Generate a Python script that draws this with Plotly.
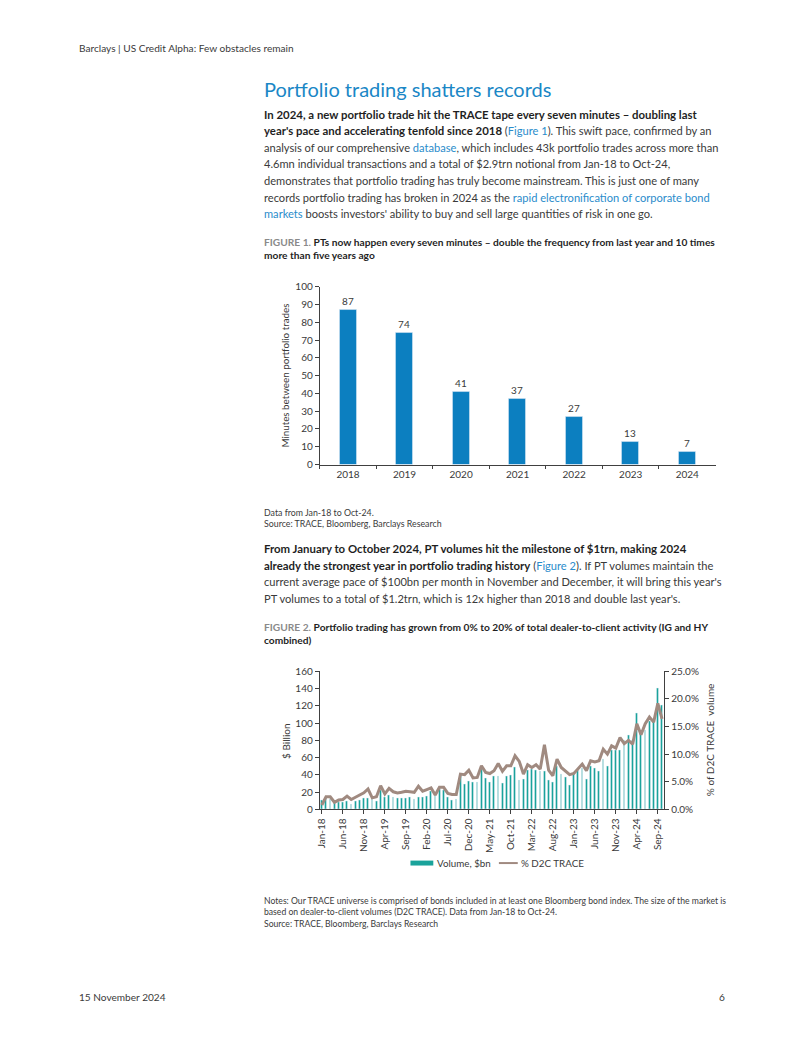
import plotly.graph_objects as go

# page is 802x1037; the html body keeps an 8px margin, so the figure is 786x1021 offset by 8px
OFF = 8
W, H = 802 - 2 * OFF, 1037 - 2 * OFF
def X(px): return (px - OFF) / W
def Y(py): return 1 - (py - OFF) / H

FONT = "Lato"
TXT = "#3a3a3a"
BOLD = "#1f1f1f"
BLUE = "#1a87c6"
LINK = "#2a8ccb"
BAR1 = "#0c7fc0"
TEAL = "#1aa39b"
LINEC = "#a08a80"
AX = "#404040"

# ---------- Figure 1 data ----------
years = ["2018", "2019", "2020", "2021", "2022", "2023", "2024"]
minutes = [87, 74, 41, 37, 27, 13, 7]

# ---------- Figure 2 data ----------
mon_names = ["Jan", "Feb", "Mar", "Apr", "May", "Jun", "Jul", "Aug", "Sep", "Oct", "Nov", "Dec"]
months = [f"{m}-{y}" for y in ["18", "19", "20", "21", "22", "23", "24"] for m in mon_names][:82]
volume_bn = [11, 13, 12, 7, 8, 8, 10, 6, 9, 11, 13, 13,
             12, 10, 22, 14, 17, 14, 13, 13, 13, 14, 12, 14,
             14, 15, 21, 16, 23, 22, 14, 11, 12, 41, 29, 33,
             32, 32, 46, 36, 32, 39, 39, 30, 39, 40, 49, 34,
             35, 45, 47, 45, 44, 44, 34, 32, 50, 41, 37, 28,
             42, 45, 48, 35, 50, 48, 44, 58, 50, 68, 69, 69,
             80, 86, 80, 111, 88, 92, 102, 104, 140, 121]
pct_d2c = [0.8, 2.3, 2.3, 1.3, 1.7, 1.8, 2.4, 1.8, 2.2, 2.6, 3.0, 3.7,
           2.1, 2.3, 4.3, 2.8, 3.8, 3.2, 3.0, 3.1, 3.3, 3.2, 3.1, 4.2,
           3.3, 3.6, 3.9, 2.6, 4.0, 4.0, 2.9, 2.7, 2.7, 6.4, 6.3, 7.1,
           5.7, 5.8, 7.9, 6.7, 6.5, 7.0, 8.3, 6.9, 7.9, 7.9, 9.7, 8.7,
           6.4, 8.1, 7.6, 8.1, 7.3, 11.7, 7.1, 6.1, 9.1, 7.6, 7.0, 6.3,
           6.5, 7.3, 8.2, 7.0, 8.8, 8.6, 8.8, 10.9, 10.0, 11.5, 11.1, 13.0,
           11.9, 12.5, 11.8, 15.5, 13.5, 15.5, 16.7, 15.8, 19.2, 16.4]
tick_months = ["Jan-18", "Jun-18", "Nov-18", "Apr-19", "Sep-19", "Feb-20", "Jul-20", "Dec-20", "May-21",
               "Oct-21", "Mar-22", "Aug-22", "Jan-23", "Jun-23", "Nov-23", "Apr-24", "Sep-24"]

fig = go.Figure()

fig.add_trace(go.Bar(x=years, y=minutes, marker_color=BAR1, width=0.3,
                     text=minutes, textposition="outside", cliponaxis=False,
                     textfont=dict(family=FONT, size=10, color=TXT),
                     xaxis="x", yaxis="y", showlegend=False))
fig.add_trace(go.Bar(x=months, y=volume_bn, marker_color=TEAL, width=0.42,
                     xaxis="x2", yaxis="y2", showlegend=False, name="Volume, $bn"))
fig.add_trace(go.Scatter(x=months, y=[v / 100 for v in pct_d2c], mode="lines",
                         line=dict(color=LINEC, width=3), xaxis="x2", yaxis="y3",
                         showlegend=False, name="% D2C TRACE"))

tickfont = dict(family=FONT, size=10, color=TXT)
fig.update_layout(
    width=W, height=H, autosize=False,
    margin=dict(l=0, r=0, t=0, b=0),
    paper_bgcolor="white", plot_bgcolor="white",
    bargap=0.0,
    xaxis=dict(domain=[X(316.7), X(715)], anchor="y", type="category",
               showline=True, linecolor=AX, linewidth=1, ticks="outside", tickson="boundaries",
               ticklen=3, tickcolor=AX, tickfont=tickfont, showgrid=False, fixedrange=True),
    yaxis=dict(domain=[Y(463.3), Y(283.3)], anchor="x", range=[0, 100], dtick=10,
               showline=True, linecolor=AX, linewidth=1, ticks="outside", ticklen=4,
               tickcolor=AX, tickfont=tickfont, showgrid=False, zeroline=False),
    xaxis2=dict(domain=[X(316.7), X(663.3)], anchor="y2", type="category",
                range=[-0.5, 81.5], tickvals=tick_months, ticktext=tick_months,
                tickangle=-90, showline=True, linecolor=AX, linewidth=1,
                ticks="outside", ticklen=4, tickcolor=AX, tickfont=tickfont, showgrid=False),
    yaxis2=dict(domain=[Y(812.7), Y(672.7)], anchor="x2", range=[0, 160], dtick=20,
                showline=True, linecolor=AX, linewidth=1, ticks="outside", ticklen=4,
                tickcolor=AX, tickfont=tickfont, showgrid=False, zeroline=False),
    yaxis3=dict(domain=[Y(812.7), Y(672.7)], anchor="x2", overlaying="y2", side="right",
                range=[0, 0.25], dtick=0.05, tickformat=".1%",
                showline=True, linecolor=AX, linewidth=1, ticks="outside", ticklen=4,
                tickcolor=AX, tickfont=tickfont, showgrid=False, zeroline=False),
)

ann = []
def text(x, y, s, size=11.1, color=TXT, xanchor="left", angle=0, family=FONT):
    ann.append(dict(x=X(x), y=Y(y), xref="paper", yref="paper", text=s, showarrow=False,
                    xanchor=xanchor, yanchor="middle", textangle=angle,
                    font=dict(family=family, size=size, color=color)))

def link(s):
    return f"<span style='color:{LINK}'>{s}</span>"
def b(s, fs=None):
    st = f"color:{BOLD}" + (f";font-size:{fs}px" if fs else "")
    return f"<b><span style='{st}'>{s}</span></b>"

# header / footer
text(72, 41, "Barclays | US Credit Alpha: Few obstacles remain", size=10.1)
text(72, 1003, "15 November 2024", size=10.1)
text(727, 1003, "6", size=10.1, xanchor="right")

# title
text(259, 83, "Portfolio trading shatters records", size=20, color=BLUE)

P = 11.1
PB = 11.4
p1 = [
    b("In 2024, a new portfolio trade hit the TRACE tape every seven minutes – doubling last", PB),
    b("year's pace and accelerating tenfold since 2018", PB) + " (" + link("Figure 1") + "). This swift pace, confirmed by an",
    "analysis of our comprehensive " + link("database") + ", which includes 43k portfolio trades across more than",
    "4.6mn individual transactions and a total of $2.9trn notional from Jan-18 to Oct-24,",
    "demonstrates that portfolio trading has truly become mainstream. This is just one of many",
    "records portfolio trading has broken in 2024 as the " + link("rapid electronification of corporate bond"),
    link("markets") + " boosts investors' ability to buy and sell large quantities of risk in one go.",
]
for i, s in enumerate(p1):
    text(259, 108.5 + i * 16.8, s, size=P)

cap_grey = "#8a8a8a"
text(259, 238, f"<b><span style='color:{cap_grey}'>FIGURE 1.</span></b> " +
     b("PTs now happen every seven minutes – double the frequency from last year and 10 times"), size=10.2)
text(259, 251, b("more than five years ago"), size=10.2)

text(282, 373, "Minutes between portfolio trades", size=9.8, xanchor="center", angle=-90)

text(259, 511.5, "Data from Jan-18 to Oct-24.", size=8.8)
text(259, 523.5, "Source: TRACE, Bloomberg, Barclays Research", size=8.8)

p2 = [
    b("From January to October 2024, PT volumes hit the milestone of $1trn, making 2024", PB),
    b("already the strongest year in portfolio trading history", PB) + " (" + link("Figure 2") + "). If PT volumes maintain the",
    "current average pace of $100bn per month in November and December, it will bring this year's",
    "PT volumes to a total of $1.2trn, which is 12x higher than 2018 and double last year's.",
]
for i, s in enumerate(p2):
    text(259, 548.5 + i * 16.8, s, size=P)

text(259, 627.5, f"<b><span style='color:{cap_grey}'>FIGURE 2.</span></b> " +
     b("Portfolio trading has grown from 0% to 20% of total dealer-to-client activity (IG and HY"), size=10.2)
text(259, 641, b("combined)"), size=10.2)

text(282, 743, "$ Billion", size=10, xanchor="center", angle=-90)
text(709, 742, "% of D2C TRACE  volume", size=10, xanchor="center", angle=-90)

# legend
text(433, 867, "Volume, $bn", size=9.8)
text(517, 867, "% D2C TRACE", size=9.8)

text(259, 904.5, "Notes: Our TRACE universe is comprised of bonds included in at least one Bloomberg bond index. The size of the market is", size=8.65)
text(259, 916.5, "based on dealer-to-client volumes (D2C TRACE). Data from Jan-18 to Oct-24.", size=8.65)
text(259, 928.5, "Source: TRACE, Bloomberg, Barclays Research", size=8.65)

shapes = [
    dict(type="rect", xref="paper", yref="paper", x0=X(408), x1=X(431), y0=Y(869.5), y1=Y(864.5),
         fillcolor=TEAL, line=dict(width=0)),
    dict(type="line", xref="paper", yref="paper", x0=X(497), x1=X(516), y0=Y(867), y1=Y(867),
         line=dict(color=LINEC, width=2)),
]
fig.update_layout(annotations=ann, shapes=shapes)

fig.write_html("out.html", config={"displayModeBar": False})
